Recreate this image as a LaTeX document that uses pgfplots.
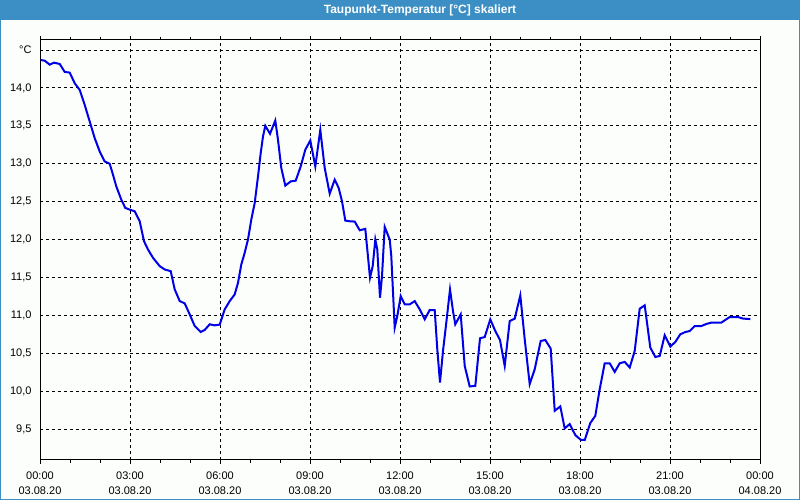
\documentclass[border=0pt]{standalone}
\usepackage{fontspec}
\setmainfont{Liberation Sans}
\usepackage{pgfplots}
\pgfplotsset{compat=1.18}
\definecolor{titleblue}{RGB}{60,143,196}
\definecolor{bgc}{RGB}{252,254,252}
\definecolor{lineblue}{RGB}{0,0,232}
\begin{document}
\begin{tikzpicture}[x=1pt,y=1pt]
\fill[titleblue] (0,0) rectangle (800,500);
\fill[bgc] (1,1) rectangle (799,480);
\node[text=white, font=\fontsize{12}{14}\selectfont\bfseries] at (420,490) {Taupunkt-Temperatur [°C] skaliert};
\begin{axis}[at={(40pt,40pt)}, anchor=south west, scale only axis,
  width=720pt, height=420pt,
  xmin=0, xmax=24, ymin=9.092, ymax=14.632,
  xtick={0,3,...,24}, minor x tick num=2,
  xticklabels={{00:00\\03.08.20},{03:00\\03.08.20},{06:00\\03.08.20},{09:00\\03.08.20},{12:00\\03.08.20},{15:00\\03.08.20},{18:00\\03.08.20},{21:00\\03.08.20},{00:00\\04.08.20}},
  ytick={9.5,10,10.5,11,11.5,12,12.5,13,13.5,14,14.5},
  yticklabels={{9,5},{10,0},{10,5},{11,0},{11,5},{12,0},{12,5},{13,0},{13,5},{14,0},{°C}},
  grid=major,
  major grid style={black, line width=1pt, dash pattern=on 3pt off 3pt},
  axis line style={black, line width=1pt},
  tick align=outside, major tick length=4pt, minor tick length=3pt,
  every tick/.style={black, line width=1pt},
  ytick style={draw=none},
  xticklabel style={align=center, font=\fontsize{11}{15}\selectfont, yshift=-4pt},
  yticklabel style={font=\fontsize{11}{13}\selectfont, xshift=-1pt},
]
\addplot[lineblue, line width=2pt] coordinates {
(0.023,14.368)(0.157,14.359)(0.323,14.307)(0.467,14.333)(0.657,14.316)(0.823,14.211)(0.99,14.202)(1.157,14.062)(1.323,13.974)(1.49,13.776)(1.657,13.557)(1.823,13.338)(1.99,13.162)(2.157,13.030)(2.323,13.0)(2.433,12.855)(2.543,12.701)(2.71,12.526)(2.843,12.417)(2.99,12.395)(3.157,12.372)(3.323,12.241)(3.467,11.978)(3.6,11.868)(3.767,11.759)(3.99,11.649)(4.157,11.605)(4.357,11.583)(4.49,11.342)(4.657,11.188)(4.823,11.158)(4.99,11.013)(5.157,10.859)(5.357,10.780)(5.49,10.807)(5.657,10.882)(5.823,10.868)(5.99,10.878)
(6.157,11.079)(6.323,11.188)(6.49,11.276)(6.6,11.430)(6.71,11.671)(6.823,11.825)(6.933,12.0)(7.043,12.263)(7.157,12.483)(7.267,12.833)(7.357,13.141)(7.433,13.359)(7.51,13.5)(7.667,13.395)(7.843,13.570)(7.933,13.316)(8.043,12.944)(8.177,12.711)(8.357,12.767)(8.523,12.776)(8.69,12.964)(8.843,13.184)(9.01,13.307)(9.177,12.964)(9.343,13.447)(9.49,12.943)(9.657,12.605)(9.823,12.789)(9.957,12.680)(10.067,12.504)(10.177,12.250)(10.323,12.241)(10.49,12.237)(10.657,12.122)(10.843,12.141)(10.91,11.868)(11.0,11.496)(11.09,11.649)(11.177,12.0)(11.243,11.868)(11.333,11.233)(11.4,11.517)(11.49,12.167)(11.657,12.0)(11.71,11.780)(11.823,10.838)(11.91,10.991)(12.023,11.254)
(12.157,11.145)(12.323,11.145)(12.49,11.188)(12.657,11.079)(12.823,10.947)(12.99,11.070)(13.157,11.070)(13.243,10.553)(13.333,10.115)(13.433,10.530)(13.543,10.904)(13.667,11.342)(13.767,11.056)(13.843,10.882)(14.023,11.013)(14.157,10.333)(14.323,10.062)(14.51,10.070)(14.667,10.697)(14.823,10.714)(15.01,10.947)(15.177,10.793)(15.333,10.675)(15.49,10.333)(15.657,10.925)(15.823,10.956)(16.01,11.263)(16.157,10.684)(16.323,10.092)(16.49,10.289)(16.69,10.662)(16.843,10.675)(17.023,10.562)(17.157,9.741)(17.343,9.799)(17.49,9.509)(17.657,9.566)(17.843,9.421)(18.023,9.359)
(18.157,9.355)(18.343,9.579)(18.51,9.675)(18.657,10.026)(18.823,10.368)(18.99,10.368)(19.157,10.254)(19.323,10.368)(19.49,10.386)(19.657,10.312)(19.823,10.530)(19.99,11.088)(20.157,11.132)(20.343,10.575)(20.51,10.451)(20.657,10.464)(20.823,10.737)(21.01,10.588)(21.177,10.649)(21.343,10.750)(21.51,10.780)(21.657,10.793)(21.823,10.859)(22.043,10.859)(22.21,10.886)(22.377,10.904)(22.71,10.904)(22.99,10.978)(23.267,10.978)(23.433,10.957)(23.677,10.951)
};
\end{axis}
\end{tikzpicture}
\end{document}
